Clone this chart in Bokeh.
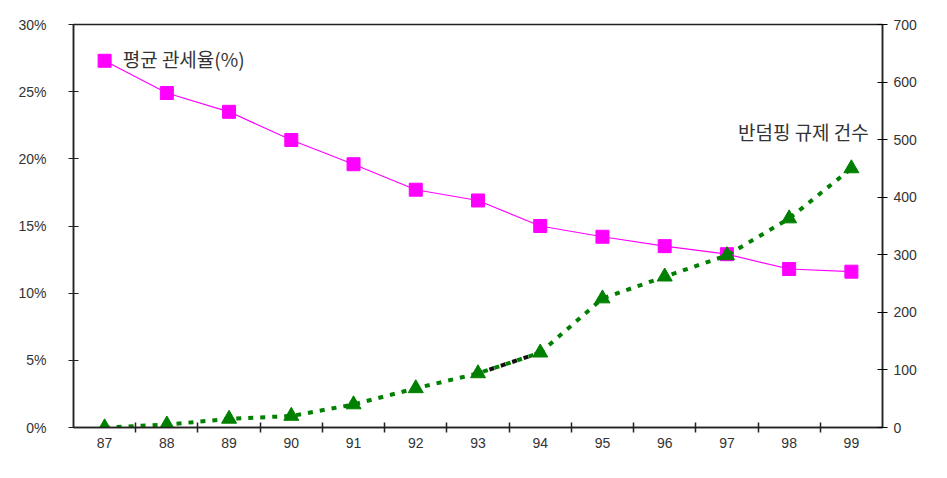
from bokeh.plotting import figure
from bokeh.models import (Range1d, LinearAxis, FixedTicker, PrintfTickFormatter, Label)
from bokeh.embed import file_html
from bokeh.resources import INLINE

years = ["87", "88", "89", "90", "91", "92", "93", "94", "95", "96", "97", "98", "99"]
tariff = [27.3, 24.9, 23.5, 21.4, 19.6, 17.7, 16.9, 15.0, 14.2, 13.5, 12.9, 11.8, 11.6]
antidumping = [0, 5, 15, 20, 40, 68, 94, 130, 224, 262, 299, 363, 450]
left_ticks = [0, 5, 10, 15, 20, 25, 30]
right_ticks = [0, 100, 200, 300, 400, 500, 600, 700]

xs = [i + 0.5 for i in range(len(years))]

p = figure(width=931, height=462, output_backend="svg", toolbar_location=None,
           x_range=Range1d(0, len(years)), y_range=Range1d(0, 30),
           min_border_left=73, min_border_right=49, min_border_top=24, min_border_bottom=35)
p.xgrid.visible = False
p.ygrid.visible = False
p.outline_line_color = "#222222"
p.outline_line_width = 1.5
p.background_fill_color = "white"
p.border_fill_color = "white"

p.extra_y_ranges = {"cnt": Range1d(0, 700)}

TICK_FONT = "Liberation Sans"
TICK_COLOR = "#333333"

# x axis
xa = p.xaxis[0]
xa.ticker = FixedTicker(ticks=xs, minor_ticks=list(range(1, len(years))))
xa.major_label_overrides = {x: y for x, y in zip(xs, years)}
xa.major_tick_in = 0
xa.major_tick_out = 0
xa.minor_tick_in = 5
xa.minor_tick_out = 5
xa.minor_tick_line_color = "#222222"
xa.minor_tick_line_width = 1.5
xa.axis_line_color = "#222222"
xa.axis_line_width = 1.5
xa.major_label_text_font = TICK_FONT
xa.major_label_text_font_size = "14px"
xa.major_label_text_color = TICK_COLOR
xa.major_label_standoff = 5

# left axis
ya = p.yaxis[0]
ya.ticker = FixedTicker(ticks=left_ticks)
ya.formatter = PrintfTickFormatter(format="%d%%")
ya.major_tick_in = 5
ya.major_tick_out = 5
ya.minor_tick_line_color = None
ya.axis_line_color = "#222222"
ya.axis_line_width = 1.5
ya.major_tick_line_color = "#222222"
ya.major_label_text_font = TICK_FONT
ya.major_label_text_font_size = "14px"
ya.major_label_text_color = TICK_COLOR
ya.major_label_standoff = 22

# right axis
ra = LinearAxis(y_range_name="cnt", ticker=FixedTicker(ticks=right_ticks))
ra.major_tick_in = 5
ra.major_tick_out = 5
ra.minor_tick_line_color = None
ra.axis_line_color = "#222222"
ra.axis_line_width = 1.5
ra.major_label_text_font = TICK_FONT
ra.major_label_text_font_size = "14px"
ra.major_label_text_color = TICK_COLOR
ra.major_label_standoff = 6
p.add_layout(ra, "right")

# tariff series
p.line(xs, tariff, line_color="#FF00FF", line_width=1.2)
p.scatter(xs, tariff, marker="square", size=13, fill_color="#FF00FF", line_color="#FF00FF")

# antidumping series
p.line(xs, antidumping, y_range_name="cnt", line_color="#008000", line_width=4, line_dash="5 7")
p.line(xs[6:8], antidumping[6:8], y_range_name="cnt", line_color="#111111", line_width=4, line_dash="5 7")
p.scatter(xs, antidumping, y_range_name="cnt", marker="triangle", size=15,
          fill_color="#008000", line_color="#008000")

p.add_layout(Label(x=0.79, y=27.5, text="평균 관세율(%)", text_font="Noto Sans CJK KR",
                   text_font_size="19px", text_color="#333333", text_baseline="middle"))
p.add_layout(Label(x=12.78, y=514, y_range_name="cnt", text="반덤핑 규제 건수",
                   text_font="Noto Sans CJK KR", text_font_size="19px", text_color="#333333",
                   text_baseline="middle", text_align="right"))

open("out.html", "w").write(file_html(p, INLINE))
